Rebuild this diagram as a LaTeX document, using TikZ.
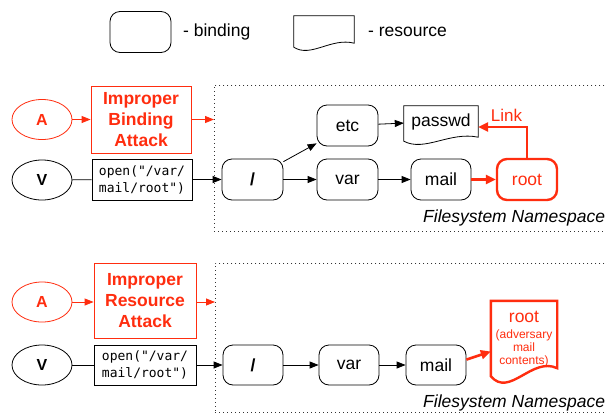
\documentclass[tikz,border=0pt]{standalone}
\usepackage{fontspec}
\setmainfont{Liberation Sans}
\setmonofont{DejaVu Sans Mono}
\usetikzlibrary{shapes.geometric,arrows.meta,calc}
\definecolor{atkred}{RGB}{255,45,15}
\newcommand{\resshape}[3][draw=black]{%
  \draw[#1] (#2.north west) -- (#2.north east) -- (#2.south east)
    .. controls ($(#2.south east)!0.38!(#2.south west)+(0pt,#3*1.5pt)$) and ($(#2.south east)!0.72!(#2.south west)+(0pt,-#3*3.75pt)$) .. ($(#2.south west)+(0pt,-#3pt)$) -- cycle;}

\begin{document}
\begin{tikzpicture}[x=1pt,y=-1pt,
    txt/.style={inner sep=0pt,font=\fontsize{17.5}{21}\selectfont},
    bind/.style={txt,draw,line width=0.8pt,rounded corners=10pt,minimum width=61pt,minimum height=41pt},
    res/.style={txt,minimum width=74pt,minimum height=31pt},
    actor/.style={ellipse,draw,line width=0.8pt,inner sep=0pt,minimum width=60pt,minimum height=40pt,font=\bfseries\fontsize{16}{19}\selectfont},
    attack/.style={draw=atkred,text=atkred,line width=0.8pt,align=center,inner sep=0pt,minimum width=100pt,font=\bfseries\fontsize{17.5}{21}\selectfont},
    call/.style={draw,line width=0.8pt,align=left,inner sep=0pt,minimum width=100pt,minimum height=41pt,font=\ttfamily\fontsize{13}{17}\selectfont},
    namespace/.style={draw=black!80,line width=0.9pt,dash pattern=on 1pt off 3pt,anchor=north west,inner sep=0pt,minimum width=400pt},
    arr/.style={-{Triangle[length=9pt,width=7pt]},line width=0.8pt},
    redarr/.style={-{Triangle[length=10pt,width=9pt]},line width=2.6pt,atkred}]
  \path[use as bounding box,fill=white] (0,0) rectangle (606,413);

  % legend
  \node[bind] (lgb) at (140.5,32) {};
  \node[txt,anchor=west] (lgbt) at (183,32) {- binding};
  \node[res,minimum width=60pt,minimum height=27pt] (lgr) at (324,29.5) {};
  \resshape[draw=black,line width=0.8pt]{lgr}{4}
  \node[txt,anchor=west] (lgrt) at (368,32) {- resource};

  % improper binding
  \node[namespace,minimum height=146pt] (ns1) at (214,85) {};
  \node[actor,draw=atkred,text=atkred] (a1) at (42,119.5) {A};
  \node[attack,minimum height=67pt] (atk1) at (141,119.5) {Improper\\Binding\\Attack};
  \node[actor] (v1) at (42,180) {V};
  \node[call] (op1) at (142,179.5) {open("/var/\\mail/root")};
  \node[bind,font=\bfseries\fontsize{17.5}{21}\selectfont] (sl1) at (252.5,179.5) {/};
  \node[bind] (etc1) at (347.5,125.5) {etc};
  \node[res] (pw1) at (441,121.5) {passwd};
  \resshape[draw=black,line width=0.8pt]{pw1}{4}
  \node[bind] (var1) at (347.5,179.5) {var};
  \node[bind,minimum width=60pt] (mail1) at (441,179.5) {mail};
  \node[bind,minimum width=60pt,draw=atkred,text=atkred,line width=2.4pt] (rt1) at (527,179.5) {root};
  \node[txt,text=atkred,font=\fontsize{17}{20}\selectfont] (lk) at (506.5,115.5) {Link};
  \node[txt,anchor=base west,font=\itshape\fontsize{17.5}{21}\selectfont] (fs1) at (423,222) {Filesystem Namespace};

  \draw[arr,atkred] (a1) -- (atk1);
  \draw[arr,atkred] (atk1.east) -- (ns1.west |- atk1.east);
  \draw[line width=0.8pt] (v1) -- (op1);
  \draw[arr] (op1) -- (sl1);
  \draw[arr] (sl1.30) -- (etc1.210);
  \draw[arr] (sl1) -- (var1);
  \draw[arr] (etc1) -- (pw1);
  \draw[arr] (var1) -- (mail1);
  \draw[redarr] (mail1) -- (rt1);
  \draw[redarr] (rt1.north) |- ([yshift=-5.5pt]pw1.east);

  % improper resource
  \node[namespace,minimum height=149pt] (ns2) at (215,263) {};
  \node[actor,draw=atkred,text=atkred] (a2) at (42,302) {A};
  \node[attack,minimum width=102pt,minimum height=75pt] (atk2) at (145,300.5) {Improper\\Resource\\Attack};
  \node[actor] (v2) at (42,365) {V};
  \node[call,minimum width=102pt,minimum height=40pt] (op2) at (145,365) {open("/var/\\mail/root")};
  \node[bind,minimum width=60pt,minimum height=40pt,font=\bfseries\fontsize{17.5}{21}\selectfont] (sl2) at (253,365) {/};
  \node[bind,minimum width=60pt,minimum height=40pt] (var2) at (349,365) {var};
  \node[bind,minimum width=60pt,minimum height=40pt] (mail2) at (436,365) {mail};
  \node[res,minimum width=66pt,minimum height=67pt] (rt2) at (524,334.5) {};
  \resshape[draw=atkred,line width=2.4pt]{rt2}{8}
  \node[txt,text=atkred,align=center,font=\fontsize{12}{13.3}\selectfont] (rt2t) at (524,339) {{\fontsize{17.5}{21}\selectfont root}\\[2.5pt](adversary\\mail\\contents)};
  \node[txt,anchor=base west,font=\itshape\fontsize{17.5}{21}\selectfont] (fs2) at (423,407) {Filesystem Namespace};

  \draw[arr,atkred] (a2) -- (a2 -| atk2.west);
  \draw[arr,atkred] (atk2.east |- a2) -- (ns2.west |- a2);
  \draw[line width=0.8pt] (v2) -- (op2);
  \draw[arr] (op2) -- (sl2);
  \draw[arr] (sl2) -- (var2);
  \draw[arr] (var2) -- (mail2);
  \draw[redarr] (mail2.10) -- ([yshift=-17pt]rt2.west);
\end{tikzpicture}
\end{document}
